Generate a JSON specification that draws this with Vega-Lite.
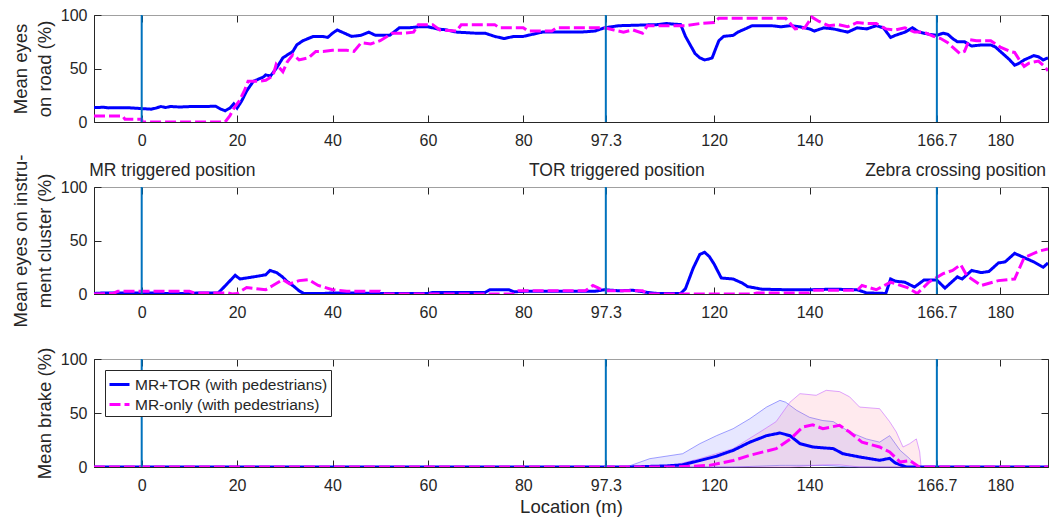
{
  "$schema": "https://vega.github.io/schema/vega-lite/v6.json",
  "padding": {"left": 10, "top": 6, "right": 2, "bottom": 2},
  "bounds": "flush",
  "spacing": 65,
  "background": "white",
  "config": {
    "font": "Liberation Sans",
    "view": {"stroke": "#262626", "strokeWidth": 1},
    "axis": {
      "labelFont": "Liberation Sans", "titleFont": "Liberation Sans",
      "labelFontSize": 16, "titleFontSize": 18.5, "titleFontWeight": "normal",
      "labelColor": "#262626", "titleColor": "#262626",
      "domainColor": "#262626", "tickColor": "#262626", "grid": false,
      "tickSize": -7, "titleLineHeight": 24
    },
    "axisX": {"labelPadding": 17},
    "axisY": {"labelPadding": 14},
    "legend": {"labelFont": "Liberation Sans", "labelFontSize": 15.5, "labelColor": "#262626"}
  },
  "datasets": {
    "vlines": [{"x": 0}, {"x": 97.3}, {"x": 166.7}],
    "road": [
      {"s":"MR+TOR (with pedestrians)","x":-10,"y":13.4},{"s":"MR+TOR (with pedestrians)","x":-8,"y":13.8},{"s":"MR+TOR (with pedestrians)","x":-7,"y":13.2},{"s":"MR+TOR (with pedestrians)","x":-3,"y":13.4},{"s":"MR+TOR (with pedestrians)","x":0,"y":12.5},{"s":"MR+TOR (with pedestrians)","x":2,"y":12},{"s":"MR+TOR (with pedestrians)","x":3,"y":13},{"s":"MR+TOR (with pedestrians)","x":4,"y":14.5},{"s":"MR+TOR (with pedestrians)","x":5,"y":13.5},{"s":"MR+TOR (with pedestrians)","x":6,"y":14.5},{"s":"MR+TOR (with pedestrians)","x":8,"y":14},{"s":"MR+TOR (with pedestrians)","x":10,"y":14.4},{"s":"MR+TOR (with pedestrians)","x":13,"y":14.4},{"s":"MR+TOR (with pedestrians)","x":15.5,"y":14.8},{"s":"MR+TOR (with pedestrians)","x":16.6,"y":12},{"s":"MR+TOR (with pedestrians)","x":17.5,"y":10.5},{"s":"MR+TOR (with pedestrians)","x":18.5,"y":13},{"s":"MR+TOR (with pedestrians)","x":19.3,"y":17},{"s":"MR+TOR (with pedestrians)","x":20,"y":13},{"s":"MR+TOR (with pedestrians)","x":21,"y":20},{"s":"MR+TOR (with pedestrians)","x":22,"y":29},{"s":"MR+TOR (with pedestrians)","x":23.4,"y":38},{"s":"MR+TOR (with pedestrians)","x":25.5,"y":42},{"s":"MR+TOR (with pedestrians)","x":26,"y":44},{"s":"MR+TOR (with pedestrians)","x":27,"y":43},{"s":"MR+TOR (with pedestrians)","x":28.2,"y":50},{"s":"MR+TOR (with pedestrians)","x":29.6,"y":60},{"s":"MR+TOR (with pedestrians)","x":31.7,"y":66},{"s":"MR+TOR (with pedestrians)","x":32.5,"y":72},{"s":"MR+TOR (with pedestrians)","x":33.8,"y":76},{"s":"MR+TOR (with pedestrians)","x":36,"y":80},{"s":"MR+TOR (with pedestrians)","x":38,"y":80},{"s":"MR+TOR (with pedestrians)","x":39,"y":79},{"s":"MR+TOR (with pedestrians)","x":40,"y":83},{"s":"MR+TOR (with pedestrians)","x":41,"y":86},{"s":"MR+TOR (with pedestrians)","x":43,"y":82},{"s":"MR+TOR (with pedestrians)","x":44,"y":80},{"s":"MR+TOR (with pedestrians)","x":46,"y":81},{"s":"MR+TOR (with pedestrians)","x":47.6,"y":84},{"s":"MR+TOR (with pedestrians)","x":49,"y":81},{"s":"MR+TOR (with pedestrians)","x":52,"y":81},{"s":"MR+TOR (with pedestrians)","x":54,"y":88},{"s":"MR+TOR (with pedestrians)","x":56,"y":88},{"s":"MR+TOR (with pedestrians)","x":58,"y":89},{"s":"MR+TOR (with pedestrians)","x":60,"y":89},{"s":"MR+TOR (with pedestrians)","x":62,"y":87},{"s":"MR+TOR (with pedestrians)","x":64,"y":86},{"s":"MR+TOR (with pedestrians)","x":66,"y":84},{"s":"MR+TOR (with pedestrians)","x":70,"y":83},{"s":"MR+TOR (with pedestrians)","x":72,"y":83},{"s":"MR+TOR (with pedestrians)","x":74,"y":80},{"s":"MR+TOR (with pedestrians)","x":76,"y":78},{"s":"MR+TOR (with pedestrians)","x":78,"y":80},{"s":"MR+TOR (with pedestrians)","x":80,"y":80},{"s":"MR+TOR (with pedestrians)","x":82,"y":82},{"s":"MR+TOR (with pedestrians)","x":84,"y":84},{"s":"MR+TOR (with pedestrians)","x":88,"y":84},{"s":"MR+TOR (with pedestrians)","x":92,"y":84},{"s":"MR+TOR (with pedestrians)","x":95,"y":85},{"s":"MR+TOR (with pedestrians)","x":97,"y":88},{"s":"MR+TOR (with pedestrians)","x":100,"y":90},{"s":"MR+TOR (with pedestrians)","x":104,"y":90.5},{"s":"MR+TOR (with pedestrians)","x":108,"y":91},{"s":"MR+TOR (with pedestrians)","x":110,"y":92},{"s":"MR+TOR (with pedestrians)","x":113,"y":91},{"s":"MR+TOR (with pedestrians)","x":114,"y":80},{"s":"MR+TOR (with pedestrians)","x":115,"y":72},{"s":"MR+TOR (with pedestrians)","x":116,"y":64},{"s":"MR+TOR (with pedestrians)","x":117,"y":60},{"s":"MR+TOR (with pedestrians)","x":118,"y":58},{"s":"MR+TOR (with pedestrians)","x":119,"y":59},{"s":"MR+TOR (with pedestrians)","x":119.6,"y":60},{"s":"MR+TOR (with pedestrians)","x":120.2,"y":67},{"s":"MR+TOR (with pedestrians)","x":121,"y":76},{"s":"MR+TOR (with pedestrians)","x":122,"y":80},{"s":"MR+TOR (with pedestrians)","x":124,"y":81},{"s":"MR+TOR (with pedestrians)","x":125,"y":84},{"s":"MR+TOR (with pedestrians)","x":127,"y":88},{"s":"MR+TOR (with pedestrians)","x":128,"y":90},{"s":"MR+TOR (with pedestrians)","x":132,"y":90},{"s":"MR+TOR (with pedestrians)","x":134,"y":89},{"s":"MR+TOR (with pedestrians)","x":136,"y":90},{"s":"MR+TOR (with pedestrians)","x":138,"y":89},{"s":"MR+TOR (with pedestrians)","x":140,"y":87},{"s":"MR+TOR (with pedestrians)","x":141,"y":85},{"s":"MR+TOR (with pedestrians)","x":143,"y":88},{"s":"MR+TOR (with pedestrians)","x":145,"y":87},{"s":"MR+TOR (with pedestrians)","x":147,"y":85},{"s":"MR+TOR (with pedestrians)","x":148,"y":84},{"s":"MR+TOR (with pedestrians)","x":150,"y":88},{"s":"MR+TOR (with pedestrians)","x":152,"y":87},{"s":"MR+TOR (with pedestrians)","x":154,"y":90},{"s":"MR+TOR (with pedestrians)","x":155.5,"y":88},{"s":"MR+TOR (with pedestrians)","x":157,"y":79},{"s":"MR+TOR (with pedestrians)","x":158,"y":81},{"s":"MR+TOR (with pedestrians)","x":160,"y":84},{"s":"MR+TOR (with pedestrians)","x":161.6,"y":88},{"s":"MR+TOR (with pedestrians)","x":163,"y":84},{"s":"MR+TOR (with pedestrians)","x":165,"y":82},{"s":"MR+TOR (with pedestrians)","x":166.7,"y":81},{"s":"MR+TOR (with pedestrians)","x":168,"y":83},{"s":"MR+TOR (with pedestrians)","x":169,"y":82},{"s":"MR+TOR (with pedestrians)","x":170,"y":78},{"s":"MR+TOR (with pedestrians)","x":171,"y":75},{"s":"MR+TOR (with pedestrians)","x":172.5,"y":75},{"s":"MR+TOR (with pedestrians)","x":174,"y":71},{"s":"MR+TOR (with pedestrians)","x":176,"y":72},{"s":"MR+TOR (with pedestrians)","x":178,"y":72},{"s":"MR+TOR (with pedestrians)","x":179,"y":70},{"s":"MR+TOR (with pedestrians)","x":180,"y":66},{"s":"MR+TOR (with pedestrians)","x":181,"y":62},{"s":"MR+TOR (with pedestrians)","x":182,"y":58},{"s":"MR+TOR (with pedestrians)","x":183,"y":53},{"s":"MR+TOR (with pedestrians)","x":184,"y":55},{"s":"MR+TOR (with pedestrians)","x":185,"y":58},{"s":"MR+TOR (with pedestrians)","x":186,"y":60},{"s":"MR+TOR (with pedestrians)","x":187,"y":62},{"s":"MR+TOR (with pedestrians)","x":188,"y":61},{"s":"MR+TOR (with pedestrians)","x":189,"y":58},{"s":"MR+TOR (with pedestrians)","x":190,"y":60},
      {"s":"MR-only (with pedestrians)","x":-10,"y":5.6},{"s":"MR-only (with pedestrians)","x":-4,"y":5.6},{"s":"MR-only (with pedestrians)","x":-3.5,"y":2.5},{"s":"MR-only (with pedestrians)","x":0,"y":2.5},{"s":"MR-only (with pedestrians)","x":0.1,"y":0},{"s":"MR-only (with pedestrians)","x":17.5,"y":0},{"s":"MR-only (with pedestrians)","x":18.5,"y":6},{"s":"MR-only (with pedestrians)","x":19.5,"y":14},{"s":"MR-only (with pedestrians)","x":20.5,"y":20},{"s":"MR-only (with pedestrians)","x":21.5,"y":29},{"s":"MR-only (with pedestrians)","x":22.3,"y":38},{"s":"MR-only (with pedestrians)","x":24.7,"y":38},{"s":"MR-only (with pedestrians)","x":26,"y":39},{"s":"MR-only (with pedestrians)","x":27.5,"y":43},{"s":"MR-only (with pedestrians)","x":28.2,"y":54},{"s":"MR-only (with pedestrians)","x":29.6,"y":47},{"s":"MR-only (with pedestrians)","x":30.5,"y":56},{"s":"MR-only (with pedestrians)","x":31.7,"y":63},{"s":"MR-only (with pedestrians)","x":33,"y":58},{"s":"MR-only (with pedestrians)","x":35,"y":60},{"s":"MR-only (with pedestrians)","x":36.5,"y":66},{"s":"MR-only (with pedestrians)","x":38,"y":66},{"s":"MR-only (with pedestrians)","x":40,"y":67},{"s":"MR-only (with pedestrians)","x":43,"y":67},{"s":"MR-only (with pedestrians)","x":44.5,"y":66},{"s":"MR-only (with pedestrians)","x":46,"y":74},{"s":"MR-only (with pedestrians)","x":48,"y":73},{"s":"MR-only (with pedestrians)","x":50,"y":76},{"s":"MR-only (with pedestrians)","x":52.5,"y":83},{"s":"MR-only (with pedestrians)","x":55,"y":83},{"s":"MR-only (with pedestrians)","x":57,"y":84},{"s":"MR-only (with pedestrians)","x":58,"y":91},{"s":"MR-only (with pedestrians)","x":61,"y":91},{"s":"MR-only (with pedestrians)","x":62.5,"y":86},{"s":"MR-only (with pedestrians)","x":66,"y":85},{"s":"MR-only (with pedestrians)","x":67,"y":91},{"s":"MR-only (with pedestrians)","x":74,"y":91},{"s":"MR-only (with pedestrians)","x":75,"y":88},{"s":"MR-only (with pedestrians)","x":80,"y":88},{"s":"MR-only (with pedestrians)","x":81,"y":85},{"s":"MR-only (with pedestrians)","x":86,"y":85},{"s":"MR-only (with pedestrians)","x":87,"y":88},{"s":"MR-only (with pedestrians)","x":97,"y":88},{"s":"MR-only (with pedestrians)","x":99,"y":86},{"s":"MR-only (with pedestrians)","x":101,"y":84},{"s":"MR-only (with pedestrians)","x":103,"y":86},{"s":"MR-only (with pedestrians)","x":105,"y":83},{"s":"MR-only (with pedestrians)","x":106,"y":90},{"s":"MR-only (with pedestrians)","x":114,"y":90},{"s":"MR-only (with pedestrians)","x":117,"y":92},{"s":"MR-only (with pedestrians)","x":120,"y":93},{"s":"MR-only (with pedestrians)","x":121,"y":97},{"s":"MR-only (with pedestrians)","x":135,"y":97},{"s":"MR-only (with pedestrians)","x":137,"y":87},{"s":"MR-only (with pedestrians)","x":139,"y":88},{"s":"MR-only (with pedestrians)","x":140.5,"y":98},{"s":"MR-only (with pedestrians)","x":142,"y":94},{"s":"MR-only (with pedestrians)","x":144,"y":90},{"s":"MR-only (with pedestrians)","x":146,"y":91},{"s":"MR-only (with pedestrians)","x":148,"y":89},{"s":"MR-only (with pedestrians)","x":150,"y":93},{"s":"MR-only (with pedestrians)","x":152,"y":92},{"s":"MR-only (with pedestrians)","x":154,"y":92},{"s":"MR-only (with pedestrians)","x":156,"y":87},{"s":"MR-only (with pedestrians)","x":158,"y":86},{"s":"MR-only (with pedestrians)","x":160,"y":88},{"s":"MR-only (with pedestrians)","x":162,"y":84},{"s":"MR-only (with pedestrians)","x":164,"y":84},{"s":"MR-only (with pedestrians)","x":166,"y":80},{"s":"MR-only (with pedestrians)","x":167.5,"y":78},{"s":"MR-only (with pedestrians)","x":169,"y":74},{"s":"MR-only (with pedestrians)","x":170,"y":70},{"s":"MR-only (with pedestrians)","x":171.5,"y":64},{"s":"MR-only (with pedestrians)","x":172.5,"y":66},{"s":"MR-only (with pedestrians)","x":173.5,"y":77},{"s":"MR-only (with pedestrians)","x":175,"y":76},{"s":"MR-only (with pedestrians)","x":178,"y":76},{"s":"MR-only (with pedestrians)","x":180,"y":70},{"s":"MR-only (with pedestrians)","x":182,"y":66},{"s":"MR-only (with pedestrians)","x":183,"y":65},{"s":"MR-only (with pedestrians)","x":184,"y":58},{"s":"MR-only (with pedestrians)","x":185,"y":52},{"s":"MR-only (with pedestrians)","x":186,"y":55},{"s":"MR-only (with pedestrians)","x":188,"y":57},{"s":"MR-only (with pedestrians)","x":189,"y":53},{"s":"MR-only (with pedestrians)","x":190,"y":48}
    ],
    "inst": [
      {"s":"MR+TOR (with pedestrians)","x":-10,"y":0.5},{"s":"MR+TOR (with pedestrians)","x":-8,"y":1},{"s":"MR+TOR (with pedestrians)","x":2,"y":1},{"s":"MR+TOR (with pedestrians)","x":5,"y":0.5},{"s":"MR+TOR (with pedestrians)","x":10,"y":0.5},{"s":"MR+TOR (with pedestrians)","x":12,"y":1},{"s":"MR+TOR (with pedestrians)","x":16,"y":1},{"s":"MR+TOR (with pedestrians)","x":16.5,"y":3},{"s":"MR+TOR (with pedestrians)","x":17.8,"y":9},{"s":"MR+TOR (with pedestrians)","x":19.6,"y":17.5},{"s":"MR+TOR (with pedestrians)","x":20.6,"y":14},{"s":"MR+TOR (with pedestrians)","x":22,"y":15},{"s":"MR+TOR (with pedestrians)","x":22.7,"y":15.5},{"s":"MR+TOR (with pedestrians)","x":24.8,"y":17},{"s":"MR+TOR (with pedestrians)","x":26,"y":18},{"s":"MR+TOR (with pedestrians)","x":26.9,"y":22},{"s":"MR+TOR (with pedestrians)","x":28.3,"y":20},{"s":"MR+TOR (with pedestrians)","x":29.5,"y":16},{"s":"MR+TOR (with pedestrians)","x":30.4,"y":12},{"s":"MR+TOR (with pedestrians)","x":31.8,"y":7.5},{"s":"MR+TOR (with pedestrians)","x":33,"y":3},{"s":"MR+TOR (with pedestrians)","x":34,"y":0.5},{"s":"MR+TOR (with pedestrians)","x":38,"y":0.5},{"s":"MR+TOR (with pedestrians)","x":40,"y":1},{"s":"MR+TOR (with pedestrians)","x":44,"y":1},{"s":"MR+TOR (with pedestrians)","x":50,"y":0.5},{"s":"MR+TOR (with pedestrians)","x":60,"y":0.5},{"s":"MR+TOR (with pedestrians)","x":61,"y":1.5},{"s":"MR+TOR (with pedestrians)","x":72,"y":1.5},{"s":"MR+TOR (with pedestrians)","x":73,"y":4},{"s":"MR+TOR (with pedestrians)","x":77,"y":4},{"s":"MR+TOR (with pedestrians)","x":78,"y":2},{"s":"MR+TOR (with pedestrians)","x":80,"y":2.5},{"s":"MR+TOR (with pedestrians)","x":95,"y":2.5},{"s":"MR+TOR (with pedestrians)","x":97,"y":4},{"s":"MR+TOR (with pedestrians)","x":100,"y":3},{"s":"MR+TOR (with pedestrians)","x":103,"y":3.5},{"s":"MR+TOR (with pedestrians)","x":106,"y":1.5},{"s":"MR+TOR (with pedestrians)","x":108,"y":0.5},{"s":"MR+TOR (with pedestrians)","x":113,"y":0.5},{"s":"MR+TOR (with pedestrians)","x":114,"y":5},{"s":"MR+TOR (with pedestrians)","x":115.6,"y":24},{"s":"MR+TOR (with pedestrians)","x":117,"y":37},{"s":"MR+TOR (with pedestrians)","x":118,"y":39},{"s":"MR+TOR (with pedestrians)","x":119,"y":35},{"s":"MR+TOR (with pedestrians)","x":120,"y":28},{"s":"MR+TOR (with pedestrians)","x":121.5,"y":15},{"s":"MR+TOR (with pedestrians)","x":124,"y":14},{"s":"MR+TOR (with pedestrians)","x":126,"y":10},{"s":"MR+TOR (with pedestrians)","x":127,"y":7},{"s":"MR+TOR (with pedestrians)","x":130,"y":4.5},{"s":"MR+TOR (with pedestrians)","x":135,"y":4},{"s":"MR+TOR (with pedestrians)","x":140,"y":4},{"s":"MR+TOR (with pedestrians)","x":145,"y":4.5},{"s":"MR+TOR (with pedestrians)","x":150,"y":4},{"s":"MR+TOR (with pedestrians)","x":152,"y":1},{"s":"MR+TOR (with pedestrians)","x":156,"y":0.5},{"s":"MR+TOR (with pedestrians)","x":157,"y":14},{"s":"MR+TOR (with pedestrians)","x":158,"y":12},{"s":"MR+TOR (with pedestrians)","x":160,"y":11},{"s":"MR+TOR (with pedestrians)","x":162,"y":6.5},{"s":"MR+TOR (with pedestrians)","x":164,"y":13},{"s":"MR+TOR (with pedestrians)","x":166.7,"y":13},{"s":"MR+TOR (with pedestrians)","x":168.4,"y":5.5},{"s":"MR+TOR (with pedestrians)","x":171,"y":16},{"s":"MR+TOR (with pedestrians)","x":172,"y":14},{"s":"MR+TOR (with pedestrians)","x":174,"y":22},{"s":"MR+TOR (with pedestrians)","x":176,"y":20},{"s":"MR+TOR (with pedestrians)","x":177.6,"y":21},{"s":"MR+TOR (with pedestrians)","x":179.6,"y":29},{"s":"MR+TOR (with pedestrians)","x":181,"y":30},{"s":"MR+TOR (with pedestrians)","x":183,"y":38},{"s":"MR+TOR (with pedestrians)","x":185,"y":34},{"s":"MR+TOR (with pedestrians)","x":187,"y":30},{"s":"MR+TOR (with pedestrians)","x":189,"y":25},{"s":"MR+TOR (with pedestrians)","x":190,"y":29},
      {"s":"MR-only (with pedestrians)","x":-10,"y":0},{"s":"MR-only (with pedestrians)","x":-6,"y":0.5},{"s":"MR-only (with pedestrians)","x":-5,"y":2.5},{"s":"MR-only (with pedestrians)","x":10,"y":2.5},{"s":"MR-only (with pedestrians)","x":11,"y":1},{"s":"MR-only (with pedestrians)","x":18,"y":1},{"s":"MR-only (with pedestrians)","x":19,"y":0},{"s":"MR-only (with pedestrians)","x":20,"y":0.5},{"s":"MR-only (with pedestrians)","x":22,"y":6},{"s":"MR-only (with pedestrians)","x":26,"y":4},{"s":"MR-only (with pedestrians)","x":27.5,"y":8},{"s":"MR-only (with pedestrians)","x":29.6,"y":13.5},{"s":"MR-only (with pedestrians)","x":31,"y":9.5},{"s":"MR-only (with pedestrians)","x":33,"y":12.5},{"s":"MR-only (with pedestrians)","x":35,"y":13.5},{"s":"MR-only (with pedestrians)","x":37,"y":8},{"s":"MR-only (with pedestrians)","x":40,"y":4},{"s":"MR-only (with pedestrians)","x":43,"y":2.5},{"s":"MR-only (with pedestrians)","x":50,"y":2.5},{"s":"MR-only (with pedestrians)","x":51,"y":0},{"s":"MR-only (with pedestrians)","x":78,"y":0},{"s":"MR-only (with pedestrians)","x":79,"y":3},{"s":"MR-only (with pedestrians)","x":93,"y":3},{"s":"MR-only (with pedestrians)","x":94.6,"y":8},{"s":"MR-only (with pedestrians)","x":96,"y":5},{"s":"MR-only (with pedestrians)","x":97,"y":3},{"s":"MR-only (with pedestrians)","x":105,"y":3},{"s":"MR-only (with pedestrians)","x":106,"y":0},{"s":"MR-only (with pedestrians)","x":128,"y":0},{"s":"MR-only (with pedestrians)","x":129,"y":1},{"s":"MR-only (with pedestrians)","x":140,"y":1},{"s":"MR-only (with pedestrians)","x":141,"y":3.5},{"s":"MR-only (with pedestrians)","x":150,"y":3.5},{"s":"MR-only (with pedestrians)","x":151,"y":8},{"s":"MR-only (with pedestrians)","x":154,"y":4},{"s":"MR-only (with pedestrians)","x":157,"y":11},{"s":"MR-only (with pedestrians)","x":160.5,"y":6},{"s":"MR-only (with pedestrians)","x":162.6,"y":0.5},{"s":"MR-only (with pedestrians)","x":165,"y":11},{"s":"MR-only (with pedestrians)","x":168,"y":19},{"s":"MR-only (with pedestrians)","x":170,"y":22},{"s":"MR-only (with pedestrians)","x":171.7,"y":27.5},{"s":"MR-only (with pedestrians)","x":173,"y":17},{"s":"MR-only (with pedestrians)","x":176,"y":8},{"s":"MR-only (with pedestrians)","x":179.6,"y":12.5},{"s":"MR-only (with pedestrians)","x":183,"y":14},{"s":"MR-only (with pedestrians)","x":185,"y":34},{"s":"MR-only (with pedestrians)","x":188,"y":40},{"s":"MR-only (with pedestrians)","x":190,"y":42}
    ],
    "brake": [
      {"s":"MR+TOR (with pedestrians)","x":-10,"y":0},{"s":"MR+TOR (with pedestrians)","x":102,"y":0},{"s":"MR+TOR (with pedestrians)","x":106,"y":0.5},{"s":"MR+TOR (with pedestrians)","x":110,"y":1},{"s":"MR+TOR (with pedestrians)","x":113.4,"y":2},{"s":"MR+TOR (with pedestrians)","x":117,"y":6},{"s":"MR+TOR (with pedestrians)","x":120.5,"y":10},{"s":"MR+TOR (with pedestrians)","x":124,"y":15.4},{"s":"MR+TOR (with pedestrians)","x":127.5,"y":23},{"s":"MR+TOR (with pedestrians)","x":131,"y":29},{"s":"MR+TOR (with pedestrians)","x":133.8,"y":31.5},{"s":"MR+TOR (with pedestrians)","x":135.9,"y":29},{"s":"MR+TOR (with pedestrians)","x":138,"y":21.6},{"s":"MR+TOR (with pedestrians)","x":140.7,"y":18.5},{"s":"MR+TOR (with pedestrians)","x":145,"y":17},{"s":"MR+TOR (with pedestrians)","x":147,"y":12.3},{"s":"MR+TOR (with pedestrians)","x":150.5,"y":9.3},{"s":"MR+TOR (with pedestrians)","x":154.7,"y":6.2},{"s":"MR+TOR (with pedestrians)","x":156.8,"y":8},{"s":"MR+TOR (with pedestrians)","x":158,"y":3.7},{"s":"MR+TOR (with pedestrians)","x":160.3,"y":0},{"s":"MR+TOR (with pedestrians)","x":190,"y":0},
      {"s":"MR-only (with pedestrians)","x":-10,"y":0},{"s":"MR-only (with pedestrians)","x":112,"y":0},{"s":"MR-only (with pedestrians)","x":119,"y":1.5},{"s":"MR-only (with pedestrians)","x":124,"y":6},{"s":"MR-only (with pedestrians)","x":127.5,"y":10.8},{"s":"MR-only (with pedestrians)","x":133,"y":17},{"s":"MR-only (with pedestrians)","x":136,"y":26},{"s":"MR-only (with pedestrians)","x":138.6,"y":37},{"s":"MR-only (with pedestrians)","x":140.7,"y":39},{"s":"MR-only (with pedestrians)","x":142.8,"y":35.5},{"s":"MR-only (with pedestrians)","x":146.3,"y":38.6},{"s":"MR-only (with pedestrians)","x":148.4,"y":32.4},{"s":"MR-only (with pedestrians)","x":151,"y":23},{"s":"MR-only (with pedestrians)","x":154.7,"y":18.5},{"s":"MR-only (with pedestrians)","x":156.8,"y":14},{"s":"MR-only (with pedestrians)","x":159,"y":4.6},{"s":"MR-only (with pedestrians)","x":161,"y":6},{"s":"MR-only (with pedestrians)","x":163,"y":0},{"s":"MR-only (with pedestrians)","x":190,"y":0}
    ],
    "bands": [
      {"s":"A","x":101.6,"lo":0,"hi":0},{"s":"A","x":106.5,"lo":0,"hi":7.7},{"s":"A","x":113.4,"lo":0,"hi":12.3},{"s":"A","x":117,"lo":0,"hi":21.6},{"s":"A","x":120.5,"lo":0,"hi":29},{"s":"A","x":124,"lo":0,"hi":35.5},{"s":"A","x":127.5,"lo":0.5,"hi":44.7},{"s":"A","x":131,"lo":1,"hi":55.5},{"s":"A","x":133.8,"lo":1.5,"hi":61.7},{"s":"A","x":135,"lo":1.5,"hi":60},{"s":"A","x":137.3,"lo":1.5,"hi":52.5},{"s":"A","x":140,"lo":1.5,"hi":46},{"s":"A","x":142.8,"lo":1.5,"hi":43},{"s":"A","x":145,"lo":1,"hi":42},{"s":"A","x":148.4,"lo":0,"hi":32.4},{"s":"A","x":151.9,"lo":0,"hi":26},{"s":"A","x":154.7,"lo":0,"hi":23},{"s":"A","x":156.8,"lo":0,"hi":29},{"s":"A","x":159,"lo":0,"hi":15.4},{"s":"A","x":161,"lo":0,"hi":7.7},{"s":"A","x":162.4,"lo":0,"hi":0},
      {"s":"B","x":110,"lo":0,"hi":0},{"s":"B","x":117,"lo":0,"hi":7.7},{"s":"B","x":124,"lo":0,"hi":17},{"s":"B","x":129.6,"lo":0,"hi":32.4},{"s":"B","x":133,"lo":0,"hi":42},{"s":"B","x":135.9,"lo":0,"hi":60},{"s":"B","x":138,"lo":0.5,"hi":67.9},{"s":"B","x":141.4,"lo":1.5,"hi":66.4},{"s":"B","x":143.5,"lo":2,"hi":71},{"s":"B","x":146.3,"lo":2,"hi":69.8},{"s":"B","x":148.4,"lo":1,"hi":65},{"s":"B","x":150.5,"lo":0,"hi":55.5},{"s":"B","x":154.7,"lo":0,"hi":54},{"s":"B","x":156.8,"lo":0,"hi":42},{"s":"B","x":158.2,"lo":0,"hi":32.4},{"s":"B","x":159.6,"lo":0,"hi":18.5},{"s":"B","x":161,"lo":0,"hi":21.6},{"s":"B","x":162.4,"lo":0,"hi":26},{"s":"B","x":163.1,"lo":0,"hi":14},{"s":"B","x":163.4,"lo":0,"hi":0}
    ],
    "labels": [
      {"t":"MR triggered position","x":-11,"a":"left"},
      {"t":"TOR triggered position","x":99.6,"a":"center"},
      {"t":"Zebra crossing position","x":189.6,"a":"right"}
    ]
  },
  "resolve": {"legend": {"color": "independent", "strokeDash": "independent"}},
  "vconcat": [
    {
      "width": 954, "height": 107,
      "resolve": {"axis": {"x": "independent", "y": "independent"}},
      "layer": [
        {
          "data": {"name": "road"},
          "mark": {"type": "line", "strokeWidth": 3, "clip": true},
          "encoding": {
            "x": {"field": "x", "type": "quantitative", "scale": {"domain": [-10, 190], "nice": false, "zero": false},
                  "axis": {"values": [0,20,40,60,80,97.3,120,140,166.7,180], "labelExpr": "toString(datum.value)", "title": null}},
            "y": {"field": "y", "type": "quantitative", "scale": {"domain": [0, 100], "nice": false},
                  "axis": {"values": [0,50,100], "title": ["Mean eyes", "on road (%)"], "titlePadding": 6}},
            "color": {"field": "s", "type": "nominal", "scale": {"domain": ["MR+TOR (with pedestrians)", "MR-only (with pedestrians)"], "range": ["#0000ff", "#ff00ff"]}, "legend": null},
            "strokeDash": {"field": "s", "type": "nominal", "scale": {"domain": ["MR+TOR (with pedestrians)", "MR-only (with pedestrians)"], "range": [[1, 0], [11, 4]]}, "legend": null}
          }
        },
        {
          "data": {"name": "vlines"},
          "mark": {"type": "rule", "color": "#0072BD", "strokeWidth": 2},
          "encoding": {
            "x": {"field": "x", "type": "quantitative", "axis": {"orient": "top", "values": [0,20,40,60,80,97.3,120,140,166.7,180], "labels": false, "title": null, "domainColor": "#a0a0a0"}},
            "y": {"datum": 0, "type": "quantitative", "axis": {"orient": "right", "values": [0,50,100], "labels": false, "title": null}},
            "y2": {"datum": 100}
          }
        }
      ]
    },
    {
      "width": 954, "height": 107,
      "resolve": {"axis": {"x": "independent", "y": "independent"}},
      "layer": [
        {
          "data": {"name": "inst"},
          "mark": {"type": "line", "strokeWidth": 3, "clip": true},
          "encoding": {
            "x": {"field": "x", "type": "quantitative", "scale": {"domain": [-10, 190], "nice": false, "zero": false},
                  "axis": {"values": [0,20,40,60,80,97.3,120,140,166.7,180], "labelExpr": "toString(datum.value)", "title": null}},
            "y": {"field": "y", "type": "quantitative", "scale": {"domain": [0, 100], "nice": false},
                  "axis": {"values": [0,50,100], "title": ["Mean eyes on instru-", "ment cluster (%)"], "titlePadding": 6}},
            "color": {"field": "s", "type": "nominal", "scale": {"domain": ["MR+TOR (with pedestrians)", "MR-only (with pedestrians)"], "range": ["#0000ff", "#ff00ff"]}, "legend": null},
            "strokeDash": {"field": "s", "type": "nominal", "scale": {"domain": ["MR+TOR (with pedestrians)", "MR-only (with pedestrians)"], "range": [[1, 0], [11, 4]]}, "legend": null}
          }
        },
        {
          "data": {"name": "vlines"},
          "mark": {"type": "rule", "color": "#0072BD", "strokeWidth": 2},
          "encoding": {
            "x": {"field": "x", "type": "quantitative", "axis": {"orient": "top", "values": [0,20,40,60,80,97.3,120,140,166.7,180], "labels": false, "title": null, "domainColor": "#a0a0a0"}},
            "y": {"datum": 0, "type": "quantitative", "axis": {"orient": "right", "values": [0,50,100], "labels": false, "title": null}},
            "y2": {"datum": 100}
          }
        },
        {
          "data": {"name": "labels"},
          "transform": [{"filter": "datum.a == 'left'"}],
          "mark": {"type": "text", "fontSize": 17.5, "color": "#262626", "baseline": "middle", "align": "left", "font": "Liberation Sans"},
          "encoding": {
            "x": {"field": "x", "type": "quantitative", "axis": null},
            "y": {"datum": 115, "type": "quantitative", "axis": null},
            "text": {"field": "t"}
          }
        },
        {
          "data": {"name": "labels"},
          "transform": [{"filter": "datum.a == 'center'"}],
          "mark": {"type": "text", "fontSize": 17.5, "color": "#262626", "baseline": "middle", "align": "center", "font": "Liberation Sans"},
          "encoding": {
            "x": {"field": "x", "type": "quantitative", "axis": null},
            "y": {"datum": 115, "type": "quantitative", "axis": null},
            "text": {"field": "t"}
          }
        },
        {
          "data": {"name": "labels"},
          "transform": [{"filter": "datum.a == 'right'"}],
          "mark": {"type": "text", "fontSize": 17.5, "color": "#262626", "baseline": "middle", "align": "right", "font": "Liberation Sans"},
          "encoding": {
            "x": {"field": "x", "type": "quantitative", "axis": null},
            "y": {"datum": 115, "type": "quantitative", "axis": null},
            "text": {"field": "t"}
          }
        }
      ]
    },
    {
      "width": 954, "height": 108,
      "resolve": {"axis": {"x": "independent", "y": "independent"}},
      "layer": [
        {
          "data": {"name": "bands"},
          "transform": [{"filter": "datum.s == 'A'"}],
          "mark": {"type": "area", "fill": "#6060ff", "fillOpacity": 0.15, "stroke": "#3030ff", "strokeOpacity": 0.45, "strokeWidth": 1},
          "encoding": {
            "x": {"field": "x", "type": "quantitative", "scale": {"domain": [-10, 190], "nice": false, "zero": false},
                  "axis": {"values": [0,20,40,60,80,97.3,120,140,166.7,180], "labelExpr": "toString(datum.value)", "title": "Location (m)", "titlePadding": 4}},
            "y": {"field": "hi", "type": "quantitative", "scale": {"domain": [0, 100], "nice": false},
                  "axis": {"values": [0,50,100], "title": "Mean brake (%)", "titlePadding": 6}},
            "y2": {"field": "lo"}
          }
        },
        {
          "data": {"name": "bands"},
          "transform": [{"filter": "datum.s == 'B'"}],
          "mark": {"type": "area", "fill": "#ff7090", "fillOpacity": 0.15, "stroke": "#c050ff", "strokeOpacity": 0.5, "strokeWidth": 1},
          "encoding": {
            "x": {"field": "x", "type": "quantitative", "axis": null},
            "y": {"field": "hi", "type": "quantitative", "axis": null},
            "y2": {"field": "lo"}
          }
        },
        {
          "data": {"name": "brake"},
          "mark": {"type": "line", "strokeWidth": 3, "clip": true},
          "encoding": {
            "x": {"field": "x", "type": "quantitative", "axis": null},
            "y": {"field": "y", "type": "quantitative", "axis": null},
            "color": {"field": "s", "type": "nominal", "scale": {"domain": ["MR+TOR (with pedestrians)", "MR-only (with pedestrians)"], "range": ["#0000ff", "#ff00ff"]},
                      "legend": {"title": null, "orient": "top-left", "offset": 11, "fillColor": "white", "strokeColor": "#262626", "padding": 3, "symbolType": "stroke", "symbolSize": 400, "symbolStrokeWidth": 3, "labelFontSize": 15.5, "labelLimit": 400, "rowPadding": 0, "labelOffset": 4}},
            "strokeDash": {"field": "s", "type": "nominal", "scale": {"domain": ["MR+TOR (with pedestrians)", "MR-only (with pedestrians)"], "range": [[1, 0], [11, 4]]},
                      "legend": {"title": null, "orient": "top-left", "offset": 11, "fillColor": "white", "strokeColor": "#262626", "padding": 3, "symbolType": "stroke", "symbolSize": 400, "symbolStrokeWidth": 3, "labelFontSize": 15.5, "labelLimit": 400, "rowPadding": 0, "labelOffset": 4}}
          }
        },
        {
          "data": {"name": "vlines"},
          "mark": {"type": "rule", "color": "#0072BD", "strokeWidth": 2},
          "encoding": {
            "x": {"field": "x", "type": "quantitative", "axis": {"orient": "top", "values": [0,20,40,60,80,97.3,120,140,166.7,180], "labels": false, "title": null, "domainColor": "#a0a0a0"}},
            "y": {"datum": 0, "type": "quantitative", "axis": {"orient": "right", "values": [0,50,100], "labels": false, "title": null}},
            "y2": {"datum": 100}
          }
        }
      ]
    }
  ]
}
